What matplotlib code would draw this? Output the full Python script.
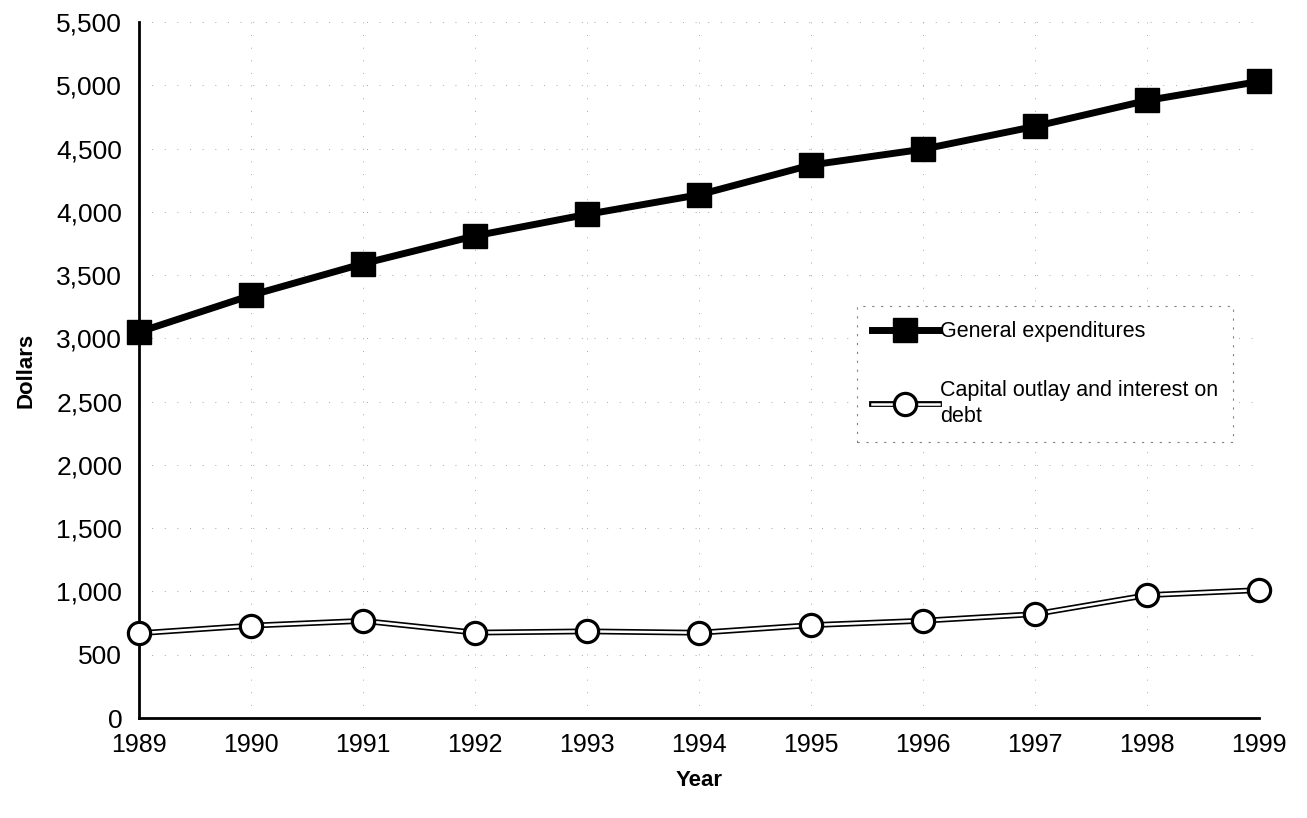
import matplotlib
matplotlib.use('Agg')
import matplotlib.pyplot as plt
from matplotlib.legend_handler import HandlerTuple
from matplotlib.ticker import FuncFormatter

# data
years = [1989, 1990, 1991, 1992, 1993, 1994, 1995, 1996, 1997, 1998, 1999]
general = [3050, 3340, 3590, 3810, 3980, 4135, 4370, 4495, 4675, 4880, 5030]
capital = [670, 730, 768, 675, 685, 674, 734, 769, 821, 971, 1011]
yticks = list(range(0, 5501, 500))

plt.rcParams['font.family'] = ['Liberation Sans', 'DejaVu Sans']

fig = plt.figure(figsize=(13.07, 8.18), dpi=100)
ax = fig.add_axes([0.1063, 0.1222, 0.857, 0.8509])

# faint scanned-looking grid
ax.grid(True, color='0.65', linestyle=(0, (1, 12)), linewidth=0.7)
ax.set_axisbelow(True)

g_line, = ax.plot(years, general, color='black', lw=5, marker='s', ms=17,
                  mfc='black', mec='black', clip_on=False, zorder=5)

c_outer, = ax.plot(years, capital, color='black', lw=4.2, clip_on=False, zorder=4)
c_inner, = ax.plot(years, capital, color='white', lw=1.8, clip_on=False, zorder=4)
c_mark, = ax.plot(years, capital, ls='none', marker='o', ms=16, mfc='white',
                  mec='black', mew=2.3, clip_on=False, zorder=6)

ax.set_xlim(1989, 1999)
ax.set_ylim(0, 5500)
ax.set_xticks(years)
ax.set_yticks(yticks)
ax.yaxis.set_major_formatter(FuncFormatter(lambda v, p: f'{int(v):,}'))
ax.tick_params(axis='y', length=0, labelsize=19, pad=12)
ax.tick_params(axis='x', length=0, labelsize=18, pad=11)

for s in ['top', 'right']:
    ax.spines[s].set_visible(False)
for s in ['left', 'bottom']:
    ax.spines[s].set_linewidth(2)
    ax.spines[s].set_color('black')

ax.set_xlabel('Year', fontsize=16, fontweight='bold', labelpad=9)
ax.set_ylabel('Dollars', fontsize=16, fontweight='bold', labelpad=14)

leg = ax.legend([g_line, (c_outer, c_inner, c_mark)],
                ['General expenditures', 'Capital outlay and interest on\ndebt'],
                handler_map={tuple: HandlerTuple(ndivide=1, pad=0)},
                loc='upper left', bbox_to_anchor=(0.641, 0.592),
                fontsize=15.5, handlelength=3.1, handletextpad=0.05,
                labelspacing=1.75, borderpad=0.7, fancybox=False,
                framealpha=1, borderaxespad=0)
for t in leg.get_texts():
    t.set_linespacing(1.3)
frame = leg.get_frame()
frame.set_edgecolor('0.5')
frame.set_linestyle((0, (2, 6)))
frame.set_linewidth(0.8)

fig.savefig('out.png', dpi=100)
